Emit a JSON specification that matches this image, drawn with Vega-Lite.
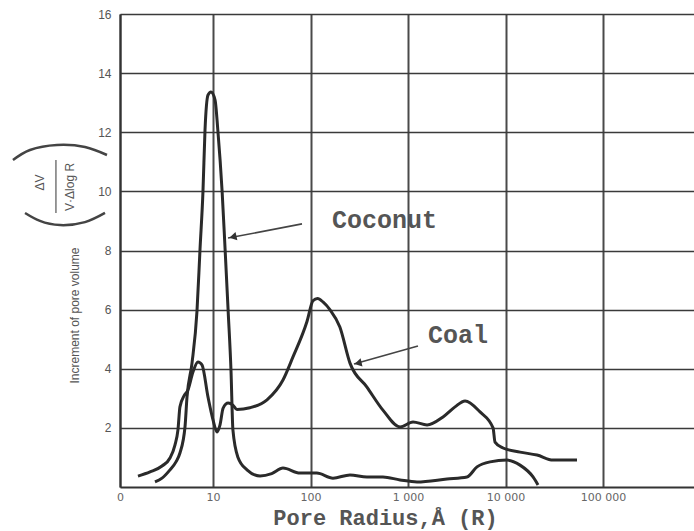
{
  "$schema": "https://vega.github.io/schema/vega-lite/v6.json",
  "width": 574,
  "height": 473,
  "autosize": {"type": "none"},
  "padding": {"left": 120, "top": 14, "right": 0, "bottom": 44},
  "background": "white",
  "view": {"stroke": null},
  "datasets": {
    "curves": [
      {"r": 1.70, "v": 0.37, "s": "Coal"},
      {"r": 2.26, "v": 0.51, "s": "Coal"},
      {"r": 3.0, "v": 0.71, "s": "Coal"},
      {"r": 3.62, "v": 0.98, "s": "Coal"},
      {"r": 4.07, "v": 1.42, "s": "Coal"},
      {"r": 4.37, "v": 1.93, "s": "Coal"},
      {"r": 4.58, "v": 2.71, "s": "Coal"},
      {"r": 5.04, "v": 3.08, "s": "Coal"},
      {"r": 5.53, "v": 3.28, "s": "Coal"},
      {"r": 6.23, "v": 3.89, "s": "Coal"},
      {"r": 7.01, "v": 4.23, "s": "Coal"},
      {"r": 7.71, "v": 4.13, "s": "Coal"},
      {"r": 8.89, "v": 3.04, "s": "Coal"},
      {"r": 10.0, "v": 2.27, "s": "Coal"},
      {"r": 11.0, "v": 1.86, "s": "Coal"},
      {"r": 11.8, "v": 2.1, "s": "Coal"},
      {"r": 12.7, "v": 2.67, "s": "Coal"},
      {"r": 14.3, "v": 2.84, "s": "Coal"},
      {"r": 16.0, "v": 2.77, "s": "Coal"},
      {"r": 17.6, "v": 2.62, "s": "Coal"},
      {"r": 23.9, "v": 2.68, "s": "Coal"},
      {"r": 35.8, "v": 2.95, "s": "Coal"},
      {"r": 52.2, "v": 3.62, "s": "Coal"},
      {"r": 66.1, "v": 4.4, "s": "Coal"},
      {"r": 92, "v": 5.6, "s": "Coal"},
      {"r": 106, "v": 6.3, "s": "Coal"},
      {"r": 118, "v": 6.38, "s": "Coal"},
      {"r": 135, "v": 6.25, "s": "Coal"},
      {"r": 158, "v": 6.0, "s": "Coal"},
      {"r": 200, "v": 5.41, "s": "Coal"},
      {"r": 254, "v": 4.19, "s": "Coal"},
      {"r": 379, "v": 3.38, "s": "Coal"},
      {"r": 553, "v": 2.6, "s": "Coal"},
      {"r": 828, "v": 2.03, "s": "Coal"},
      {"r": 1125, "v": 2.2, "s": "Coal"},
      {"r": 1567, "v": 2.1, "s": "Coal"},
      {"r": 2286, "v": 2.37, "s": "Coal"},
      {"r": 3034, "v": 2.71, "s": "Coal"},
      {"r": 3846, "v": 2.91, "s": "Coal"},
      {"r": 5476, "v": 2.54, "s": "Coal"},
      {"r": 7447, "v": 2.0, "s": "Coal"},
      {"r": 7800, "v": 1.52, "s": "Coal"},
      {"r": 9420, "v": 1.32, "s": "Coal"},
      {"r": 14090, "v": 1.18, "s": "Coal"},
      {"r": 21040, "v": 1.08, "s": "Coal"},
      {"r": 30690, "v": 0.91, "s": "Coal"},
      {"r": 54080, "v": 0.91, "s": "Coal"},
      {"r": 2.54, "v": 0.17, "s": "Coconut"},
      {"r": 3.0, "v": 0.3, "s": "Coconut"},
      {"r": 3.62, "v": 0.58, "s": "Coconut"},
      {"r": 4.17, "v": 0.85, "s": "Coconut"},
      {"r": 4.58, "v": 1.15, "s": "Coconut"},
      {"r": 5.16, "v": 2.03, "s": "Coconut"},
      {"r": 5.41, "v": 3.04, "s": "Coconut"},
      {"r": 6.09, "v": 4.19, "s": "Coconut"},
      {"r": 6.85, "v": 5.95, "s": "Coconut"},
      {"r": 7.36, "v": 8.05, "s": "Coconut"},
      {"r": 7.89, "v": 10.0, "s": "Coconut"},
      {"r": 8.28, "v": 12.08, "s": "Coconut"},
      {"r": 8.89, "v": 13.26, "s": "Coconut"},
      {"r": 9.53, "v": 13.36, "s": "Coconut"},
      {"r": 10.5, "v": 13.09, "s": "Coconut"},
      {"r": 11.2, "v": 12.08, "s": "Coconut"},
      {"r": 12.4, "v": 10.0, "s": "Coconut"},
      {"r": 13.3, "v": 8.05, "s": "Coconut"},
      {"r": 14.3, "v": 5.95, "s": "Coconut"},
      {"r": 15.3, "v": 3.92, "s": "Coconut"},
      {"r": 16.0, "v": 1.93, "s": "Coconut"},
      {"r": 18.0, "v": 1.01, "s": "Coconut"},
      {"r": 22.3, "v": 0.58, "s": "Coconut"},
      {"r": 30.4, "v": 0.37, "s": "Coconut"},
      {"r": 40, "v": 0.45, "s": "Coconut"},
      {"r": 52.2, "v": 0.64, "s": "Coconut"},
      {"r": 78, "v": 0.47, "s": "Coconut"},
      {"r": 116, "v": 0.47, "s": "Coconut"},
      {"r": 170, "v": 0.3, "s": "Coconut"},
      {"r": 254, "v": 0.41, "s": "Coconut"},
      {"r": 379, "v": 0.34, "s": "Coconut"},
      {"r": 553, "v": 0.34, "s": "Coconut"},
      {"r": 828, "v": 0.24, "s": "Coconut"},
      {"r": 1236, "v": 0.17, "s": "Coconut"},
      {"r": 2512, "v": 0.27, "s": "Coconut"},
      {"r": 4027, "v": 0.34, "s": "Coconut"},
      {"r": 5100, "v": 0.68, "s": "Coconut"},
      {"r": 6940, "v": 0.85, "s": "Coconut"},
      {"r": 10350, "v": 0.91, "s": "Coconut"},
      {"r": 14090, "v": 0.74, "s": "Coconut"},
      {"r": 19150, "v": 0.34, "s": "Coconut"},
      {"r": 21530, "v": 0.07, "s": "Coconut"}
    ],
    "arrows": [
      {"r": 81.8, "v": 8.9, "r2": 14.26, "v2": 8.42, "s": "Coconut"},
      {"r": 1265, "v": 4.77, "r2": 279, "v2": 4.16, "s": "Coal"}
    ],
    "heads": [
      {"r": 16.0, "v": 8.46, "s": "Coconut"},
      {"r": 307, "v": 4.19, "s": "Coal"}
    ],
    "labels": [
      {"r": 166, "v": 9.03, "text": "Coconut"},
      {"r": 1603, "v": 5.14, "text": "Coal"}
    ],
    "fraction": [
      {"r": 0.168, "v": 10.3, "text": "ΔV", "part": "num"},
      {"r": 0.341, "v": 10.15, "text": "V·Δlog R", "part": "den"}
    ],
    "bar": [
      {"r": 0.245, "v": 11.06, "v2": 9.27}
    ],
    "parens": [
      {"r": 0.0888, "v": 11.06, "arc": "top"},
      {"r": 0.1327, "v": 11.40, "arc": "top"},
      {"r": 0.2511, "v": 11.57, "arc": "top"},
      {"r": 0.4864, "v": 11.50, "arc": "top"},
      {"r": 0.8179, "v": 11.23, "arc": "top"},
      {"r": 0.118, "v": 9.27, "arc": "bottom"},
      {"r": 0.168, "v": 9.0, "arc": "bottom"},
      {"r": 0.27, "v": 8.86, "arc": "bottom"},
      {"r": 0.4864, "v": 8.96, "arc": "bottom"},
      {"r": 0.780, "v": 9.27, "arc": "bottom"}
    ]
  },
  "layer": [
    {
      "data": {"name": "curves"},
      "mark": {"type": "line", "color": "#2a2a2a", "strokeWidth": 3, "interpolate": "monotone"},
      "encoding": {
        "x": {
          "field": "r", "type": "quantitative",
          "scale": {"type": "log", "domain": [1.112, 857000], "nice": false},
          "axis": {
            "values": [1.112, 10, 100, 1000, 10000, 100000],
            "labelExpr": "datum.value < 5 ? '0' : datum.value == 10 ? '10' : datum.value == 100 ? '100' : datum.value == 1000 ? '1 000' : datum.value == 10000 ? '10 000' : '100 000'",
            "grid": true, "gridColor": "#4a4a4a", "gridWidth": 2,
            "domainColor": "#333", "domainWidth": 2,
            "ticks": false, "labelPadding": 4, "labelFlush": false, "labelOverlap": false,
            "labelFont": "DejaVu Sans", "labelFontSize": 11, "labelColor": "#666",
            "title": "Pore  Radius,Å (R)",
            "titleFont": "Liberation Mono", "titleFontSize": 22, "titleFontWeight": "bold", "titleColor": "#555",
            "titleX": 265, "titleY": 37, "titleAlign": "center", "titleBaseline": "alphabetic"
          }
        },
        "y": {
          "field": "v", "type": "quantitative",
          "scale": {"domain": [0, 16], "nice": false},
          "axis": {
            "values": [2, 4, 6, 8, 10, 12, 14, 16],
            "grid": true, "gridColor": "#3a3a3a", "gridWidth": 1.7,
            "domainColor": "#333", "domainWidth": 2,
            "ticks": false, "labelPadding": 9,
            "labelFont": "Liberation Sans", "labelFontSize": 12, "labelColor": "#555",
            "title": "Increment of pore volume",
            "titleFont": "Liberation Sans", "titleFontSize": 12, "titleFontWeight": "normal", "titleColor": "#555",
            "titleX": -46, "titleY": 301, "titleAngle": 270, "titleAlign": "center", "titleBaseline": "middle"
          }
        },
        "detail": {"field": "s"}
      }
    },
    {
      "data": {"name": "arrows"},
      "mark": {"type": "rule", "color": "#444", "strokeWidth": 1.6},
      "encoding": {
        "x": {"field": "r", "type": "quantitative"},
        "y": {"field": "v", "type": "quantitative"},
        "x2": {"field": "r2"},
        "y2": {"field": "v2"}
      }
    },
    {
      "data": {"name": "heads"},
      "mark": {"type": "point", "shape": "triangle-left", "filled": true, "color": "#333", "size": 70, "angle": 347, "opacity": 1},
      "encoding": {
        "x": {"field": "r", "type": "quantitative"},
        "y": {"field": "v", "type": "quantitative"}
      }
    },
    {
      "data": {"name": "labels"},
      "mark": {"type": "text", "font": "Liberation Mono", "fontSize": 25, "fontWeight": "bold", "color": "#555", "align": "left", "baseline": "middle"},
      "encoding": {
        "x": {"field": "r", "type": "quantitative"},
        "y": {"field": "v", "type": "quantitative"},
        "text": {"field": "text"}
      }
    },
    {
      "data": {"name": "fraction"},
      "mark": {"type": "text", "font": "Liberation Sans", "fontSize": 12, "color": "#555", "align": "center", "baseline": "middle", "angle": 270},
      "encoding": {
        "x": {"field": "r", "type": "quantitative"},
        "y": {"field": "v", "type": "quantitative"},
        "text": {"field": "text"}
      }
    },
    {
      "data": {"name": "bar"},
      "mark": {"type": "rule", "color": "#555", "strokeWidth": 1.2},
      "encoding": {
        "x": {"field": "r", "type": "quantitative"},
        "y": {"field": "v", "type": "quantitative"},
        "y2": {"field": "v2"}
      }
    },
    {
      "data": {"name": "parens"},
      "mark": {"type": "line", "color": "#444", "strokeWidth": 2.5, "interpolate": "natural"},
      "encoding": {
        "x": {"field": "r", "type": "quantitative"},
        "y": {"field": "v", "type": "quantitative"},
        "detail": {"field": "arc"}
      }
    }
  ]
}
